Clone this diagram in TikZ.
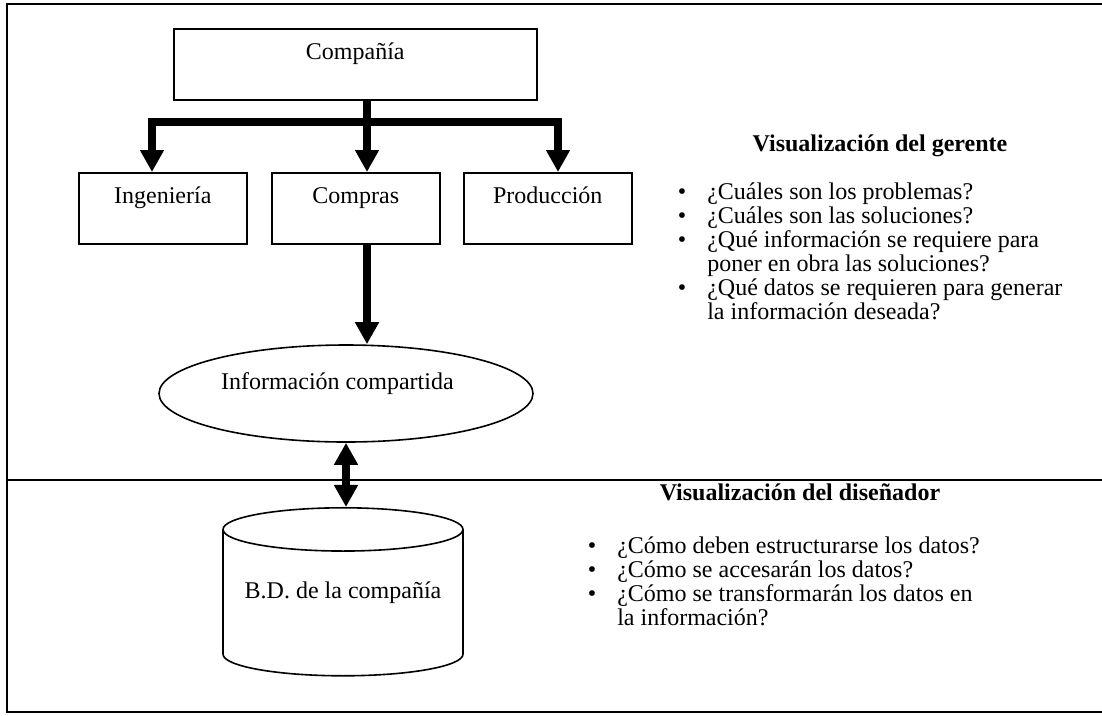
\documentclass[tikz,border=0pt]{standalone}
\usepackage{fontspec}
\setmainfont{Liberation Serif}
\usetikzlibrary{arrows.meta,shapes.geometric}
\newcommand\bul{\makebox[24pt][l]{\hspace{2pt}•}}

\begin{document}
\begin{tikzpicture}[x=0.75pt, y=-0.75pt, >={Triangle[width=17pt,length=16.5pt]},
  every node/.style={font=\fontsize{18pt}{18pt}\selectfont},
  box/.style={draw, line width=1.2pt, inner sep=0pt, text height=23pt, text depth=30.25pt, anchor=north west},
  fatline/.style={line width=5.6pt},
  heading/.style={font=\fontsize{18pt}{18pt}\selectfont\bfseries},
  bullets/.style={anchor=north west, align=left, inner sep=0pt}]
  \useasboundingbox (0,0) rectangle (1102,715);
  \draw[line width=1.5pt] (1102,4) -- (7,4) -- (7,712) -- (1102,712);
  \draw[line width=0.9pt] (7,480) -- (1102,480);

  \node[box, minimum width=272.25pt] (comp) at (173,28) {Compañía};
  \node[box, minimum width=126pt] (ing) at (78,172) {Ingeniería};
  \node[box, minimum width=126pt] (compras) at (271,172) {Compras};
  \node[box, minimum width=126pt] (prod) at (463,172) {Producción};
  \node[draw, ellipse, line width=1.2pt, inner sep=0pt, minimum width=280.5pt, minimum height=72.75pt, text depth=19pt] (info) at (346,393.5) {Información compartida\hspace*{13pt}};
  \node[draw, cylinder, shape border rotate=90, aspect=0.22, line width=1.2pt, inner sep=0pt, minimum width=180pt, minimum height=126pt, text depth=20pt] (bd) at (343,603) {B.D. de la compañía};

  \coordinate (split) at (367,122);
  \coordinate (left) at (152,122);
  \coordinate (right) at (558,122);
  \draw[fatline] (split |- comp.south) -- (split);
  \draw[fatline, <->] (left |- ing.north) -- (left) -- (right) -- (right |- prod.north);
  \draw[fatline, ->] (split) -- (split |- compras.north);
  \draw[fatline, ->] (split |- compras.south) -- (split |- info.north);
  \draw[fatline, <->] (info.south) -- (info.south |- bd.north);

  \node[heading] (gerente) at (880,146) {Visualización del gerente};
  \node[bullets] (preguntas) at (675,183) {\bul ¿Cuáles son los problemas?\\
    \bul ¿Cuáles son las soluciones?\\
    \bul ¿Qué información se requiere para\\
    \hspace*{24pt}poner en obra las soluciones?\\
    \bul ¿Qué datos se requieren para generar\\
    \hspace*{24pt}la información deseada?};
  \node[heading] (disenador) at (800,492) {Visualización del diseñador};
  \node[bullets] (datos) at (585,537) {\bul ¿Cómo deben estructurarse los datos?\\
    \bul ¿Cómo se accesarán los datos?\\
    \bul ¿Cómo se transformarán los datos en\\
    \hspace*{24pt}la información?};
\end{tikzpicture}
\end{document}
